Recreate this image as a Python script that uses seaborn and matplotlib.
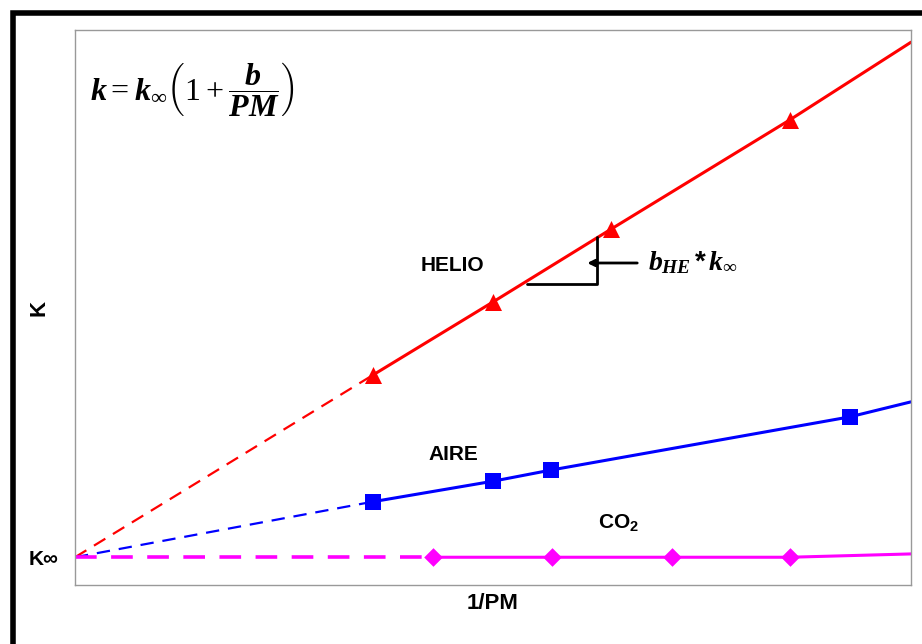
import numpy as np
import pandas as pd
import matplotlib
matplotlib.use("Agg")
import matplotlib.pyplot as plt
import seaborn as sns
from matplotlib.patches import Rectangle

# values (x = 1/PM, y = K, arbitrary units)
k_inf = 0.05
helio_x = [0.356, 0.50, 0.641, 0.855, 1.0]
helio_y = [0.378, 0.510, 0.641, 0.838, 0.978]
aire_x = [0.356, 0.50, 0.569, 0.927, 1.0]
aire_y = [0.150, 0.187, 0.207, 0.303, 0.330]
co2_x = [0.428, 0.571, 0.714, 0.855, 1.0]
co2_y = [0.050, 0.050, 0.050, 0.050, 0.056]

sns.set_style("white")
plt.rcParams["font.family"] = ["Liberation Sans", "DejaVu Sans"]
plt.rcParams["text.color"] = "black"
plt.rcParams["axes.labelcolor"] = "black"
plt.rcParams["ytick.color"] = "black"
plt.rcParams["mathtext.fontset"] = "custom"
plt.rcParams["mathtext.it"] = "Liberation Serif:italic:bold"
plt.rcParams["mathtext.rm"] = "Liberation Serif"
plt.rcParams["mathtext.bf"] = "Liberation Serif:bold"

fig = plt.figure(figsize=(9.22, 6.44), dpi=100)
ax = fig.add_axes([75 / 922, 59 / 644, 836 / 922, 555 / 644])

series = [
    ("HELIO", helio_x, helio_y, "#ff0000", "^", 2.2, 1.6, 150),
    ("AIRE", aire_x, aire_y, "#0000ff", "s", 2.2, 1.6, 120),
    ("CO2", co2_x, co2_y, "#ff00ff", "D", 2.2, 2.6, 90),
]
for name, xs, ys, col, mk, lw, dlw, ms in series:
    df = pd.DataFrame({"x": xs, "y": ys})
    # extrapolated part down to K_inf
    ax.plot([0, xs[0]], [k_inf, ys[0]], color=col, lw=dlw, ls=(0, (6, 4)))
    sns.lineplot(data=df, x="x", y="y", ax=ax, color=col, lw=lw)
    ax.scatter(xs[:-1], ys[:-1], marker=mk, color=col, s=ms, zorder=5, linewidths=0)

ax.set_xlim(0, 1)
ax.set_ylim(0, 1)
ax.set_xticks([])
ax.set_yticks([k_inf])
ax.set_yticklabels(["K∞"], fontsize=15, fontweight="bold")
ax.tick_params(axis="y", length=0, pad=12)
ax.set_xlabel("1/PM", fontsize=16, fontweight="bold", labelpad=6)
ax.set_ylabel("K", fontsize=16, fontweight="bold")
ax.yaxis.set_label_coords(-0.03, 0.5)
for s in ax.spines.values():
    s.set_color("#999999")
    s.set_linewidth(1)

ax.text(0.451, 0.576, "HELIO", fontsize=15, fontweight="bold", ha="center", va="center")
ax.text(0.452, 0.235, "AIRE", fontsize=15, fontweight="bold", ha="center", va="center")
ax.text(0.65, 0.113, "CO$_\\mathregular{2}$", fontsize=15, fontweight="bold",
        ha="center", va="center")

# slope triangle
xv = (597 - 75) / 836
xh = (527 - 75) / 836
yb = (585 - 284) / 555
yt = (585 - 237) / 555
ax.plot([xh, xv, xv], [yb, yb, yt], color="black", lw=2)
ya = (585 - 263) / 555
ax.annotate("", xy=(xv - 0.015, ya), xytext=((640 - 75) / 836, ya),
            arrowprops=dict(arrowstyle="-|>", color="black", lw=2, mutation_scale=10))
ax.text((648 - 75) / 836, ya, r"$b_{HE}\,$*$\,k_{\infty}$", fontsize=20,
        ha="left", va="center", fontweight="bold")

ax.text((90 - 75) / 836, (585 - 90) / 555,
        r"$k=k_{\infty}\left(\mathrm{1}+\dfrac{b}{PM}\right)$",
        fontsize=23, ha="left", va="center")

# outer black frame
fig.patches.append(Rectangle((12.5 / 922, -0.1), 1.2, (644 - 12.5) / 644 + 0.1,
                             transform=fig.transFigure, fill=False,
                             edgecolor="black", lw=4))

fig.savefig("out.png", dpi=100)
